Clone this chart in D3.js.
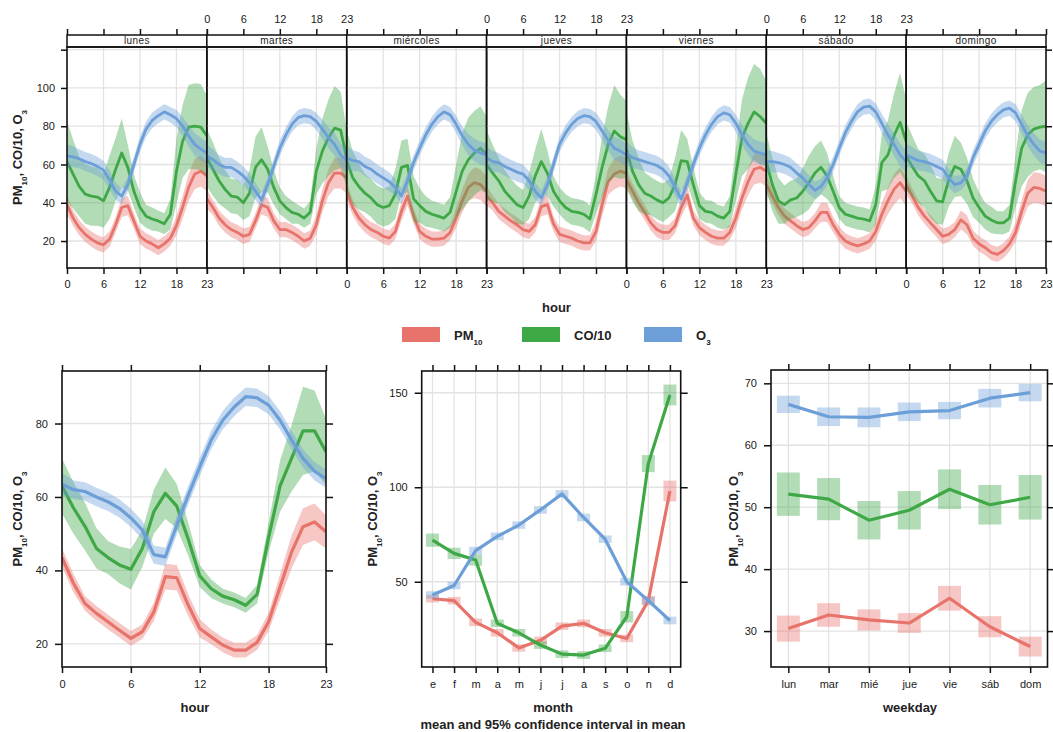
<!DOCTYPE html>
<html>
<head>
<meta charset="utf-8">
<script src="https://cdn.jsdelivr.net/npm/d3@7"></script>
<style>
  body { margin: 0; background: #fff; }
  text { font-family: "Liberation Sans", Arial, sans-serif; }
</style>
</head>
<body>
<div id="chart"></div>
<script>
// ---------------- data ----------------
var days = ["lunes", "martes", "miércoles", "jueves", "viernes", "sábado", "domingo"];
var dayShort = ["lun", "mar", "mié", "jue", "vie", "sáb", "dom"];
var monthLabels = ["e", "f", "m", "a", "m", "j", "j", "a", "s", "o", "n", "d"];
var hours = d3.range(24);

// day x hour means (one row per weekday, 24 hours)
var pmDayHour = [
  [39,32,27,23.5,21,19,18,21,28.5,37.5,38.5,30.5,22.5,20,18.5,16.5,18.5,21.5,28,37.5,48,55,56.5,54],
  [42,37.5,32,28.5,26,24.5,22.5,23.5,30.5,39,37.5,30.5,26,26,24.5,22.5,20,21.5,28.5,41,50.5,55.5,55.5,53],
  [46,37.5,32,28.5,26,24.5,22.5,21.5,25,35.5,43.5,33,25,22.5,21,21,21.5,24.5,32,41,48,50.5,49.5,46],
  [43.5,40,35.5,33,30.5,28.5,26,25,28.5,38,39,29,23.5,22.5,21.5,20,19,19,25,39,51,55,56.5,55.5],
  [52,46,40,35,29.5,26,24.5,24.5,28,37.5,44,32,27,24.5,22.5,21.5,21.5,24.5,32,42.5,51,57.5,58.5,56.5],
  [49.5,43.5,37.5,33,30.5,28,26,27,30.5,35,35,28.5,23.5,20,18.5,17.5,18.5,20,25,34,41,47,50.5,46],
  [49.5,43.5,37.5,33,29.5,26,22.5,23.5,26,31,28.5,21.5,18.5,16.5,14,13,15,18.5,24.5,35.5,45,48,47.5,46]
];
var coDayHour = [
  [61.5,55,48.5,44.5,43.5,43,41,48,57.5,66,58.5,46,37.5,33,31.5,30.5,29,34,56.5,72,79.5,80,79.5,75],
  [63.5,57.5,51.5,47,43.5,43,40,45,58.5,62.5,57.5,48,41,37.5,35,34,32,35,56.5,67,74,79,78,63],
  [62,53,48.5,45,42.5,39,37.5,38.5,44.5,58.5,59.5,42,38.5,35.5,34,33,32,35,46,56.5,62.5,66,68.5,65],
  [60,55.5,51.5,46,42.5,39,37.5,43.5,54,61.5,55.5,46,41,37.5,35.5,35,34,31.5,44.5,58.5,70.5,77.5,74.5,73],
  [68,56.5,49.5,45,43.5,41.5,40,42.5,49.5,62,61.5,49.5,38.5,35.5,35,33,32,35.5,55,74,81.5,87.5,85,81.5],
  [61.5,49.5,41,39,41.5,42.5,46,50.5,55.5,58.5,54,46,37.5,34,33,32,31.5,30.5,39,61,65,75,82,72],
  [64.5,59,54,51.5,46,41,40.5,52,59,57.5,51.5,42.5,37.5,33,31,29.5,29.5,32,51.5,68.5,75.5,78.5,79.5,80]
];
var o3DayHour = [
  [64.5,64,63,61.5,60.5,59,57,52,46,43.5,49.5,60,70.5,78.5,83,85.5,87.5,86,84,80,75,70.5,68,66],
  [64.5,62.5,60,58.5,58.5,56.5,54,50.5,46,41.5,49.5,59,68.5,75.5,81,84.5,85.5,85,82.5,78.5,74,70.5,65,62],
  [63.5,62,61.5,59,57.5,55,53,51,48,43.5,51.5,61,68.5,75.5,81,85,87.5,86,81,75,70.5,67.5,66,65],
  [63.5,61.5,61,59,57.5,56,55,51.5,46,42.5,49.5,60,70.5,76.5,81,84,85.5,85,82.5,77.5,72.5,68.5,67,65],
  [66,63.5,62.5,61.5,60.5,59.5,57.5,54,48,42,50.5,60,68.5,75.5,81,85,87,86,81.5,75.5,70.5,67,66,65],
  [61.5,61.5,61,60,58.5,55.5,53,49.5,46.5,48.5,53,60,68.5,76.5,82.5,87.5,90,90.5,87.5,81.5,75.5,70.5,65,61.5],
  [65,63.5,62,61.5,60.5,59,57.5,53,49.5,50.5,54,63.5,70.5,77.5,82.5,86,88.5,89.5,87,81,75,70.5,67,66]
];
// half widths of the 95% intervals
var pmDayHourCi = [5,4,4,4,4,4,4,4,4,5,5,4,4,4,4,4,4,4,5,6,7,8,8,8];
var o3DayHourCi = [6,5.5,5,5,5,5,5,5,4.5,4,4,4,4,4,4,4,4,4,4.5,5,5.5,6,6,6];
var coDayHourCi = [
  [21,18,15.5,15.5,15.5,15,14,16.5,16.5,18,12,8.5,8,6,6,5.5,5.5,8,17,19,22,22.5,22.5,21],
  [15,14,12,10,9,9,9,12,16,17,12,9,7,6,6,5,5,6,12,17,20,22,20,15],
  [16,14,12,10,10,10,10,10,13,14,14,12,9,8,7,7,7,8,14,20,22,22,22,20],
  [18,15,12,11,10,10,9,12,14,17,12,8,7,7,7,7,7,7,10,16,20,24,22,20],
  [20,16,14,11,10,10,10,10,14,16,12,9,7,6,6,6,6,8,14,20,24,25,25,22],
  [15,14,12,10,10,10,12,14,14,14,12,8,6,6,6,6,6,6,10,15,18,22,26,22],
  [18,16,14,14,14,12,12,14,16,14,12,10,8,7,7,6,6,7,14,20,22,22,22,24]
];

// hour of day
var pmHour = [43.5,36.5,31,28.3,26,23.7,21.5,23.3,28.7,38.3,38,30.5,24.2,21.9,19.7,18.3,18.3,20.4,26,35.5,45,51.9,53.2,50.5];
var coHour = [63,57,52,46,43.5,41.5,40.3,46,56,61,57.5,48.5,38.5,35,33,32,30.5,33.5,49,63,70.5,78,78,72.3];
var o3Hour = [63.5,62,61.5,60,58.7,56.9,54.3,51,44.3,43.7,52.3,60.5,68.2,75.5,80.9,84.5,87.3,87,85,80.9,75.5,70.5,67,65];
var pmHourCi = [2.5,2.5,2,2,2,2,2,2,2.5,3.5,3.5,3,2.5,2,2,2,2,2,2.5,3.5,4.5,5,5,4.5];
var coHourCi = [7.5,7,6.5,5.5,4.5,5,5.5,5,6,7,6,4.5,3,2.5,2,2,2,2.5,4,7,9,12,11,9];
var o3HourCi = [3,2.5,2.5,2.5,2.5,2.5,2.5,2.5,2.5,2.5,2.5,2.5,2.5,2.5,2.5,2.5,2.5,2.5,2.5,2.5,2.5,2.5,2.5,2.5];

// month
var pmMonth = [41,40,28.5,23,15,19,26.5,28,23,20,40,98];
var coMonth = [72,65,61.5,28,23,16.5,11.7,11.2,14.8,31.5,112.5,148.8];
var o3Month = [43,48,66.5,74,80,88,96.5,84,72.5,50,40,29.5];
var pmMonthCi = [2,2,2,2,2,2,2,2,2,2,2.5,5.5];
var coMonthCi = [3.5,3,3,2,2,2,2,2,2,3,4.5,5.5];
var o3MonthCi = [2,2,2,2,2,2,2,2,2,2,2,2];

// weekday
var pmWeek = [30.4,32.6,31.8,31.3,35.3,30.7,27.5];
var coWeek = [52.1,51.3,47.9,49.5,52.9,50.4,51.6];
var o3Week = [66.6,64.6,64.5,65.4,65.6,67.6,68.5];
var pmWeekCi = [2.1,1.9,1.7,1.6,2,1.7,1.6];
var coWeekCi = [3.5,3.4,3.1,3.1,3.2,3.2,3.6];
var o3WeekCi = [1.4,1.5,1.6,1.5,1.4,1.5,1.4];

var colPM = "#e8736b", colCO = "#3fa846", colO3 = "#6c9fd8";

//**************************************************************

var svg = d3.select("#chart")
  .append("svg")
  .attr("width", 1053)
  .attr("height", 732);

var gridCol = "#e3e3e3";
var frameCol = "#111";

function styleAxis(g) {
  g.attr("font-family", null).attr("font-size", null);
  g.select(".domain").remove();
  g.selectAll(".tick line").attr("stroke", frameCol).attr("stroke-width", 1.5);
  g.selectAll(".tick text").attr("fill", "#1a1a1a").style("font-size", "11px");
}

function yLabel(x, y) {
  var t = svg.append("text")
    .attr("transform", "translate(" + x + "," + y + ") rotate(-90)")
    .attr("text-anchor", "middle")
    .style("font-weight", "bold")
    .style("font-size", "13px")
    .attr("fill", "#222");
  t.append("tspan").text("PM");
  t.append("tspan").text("10").attr("baseline-shift", "sub").style("font-size", "8px");
  t.append("tspan").text(", CO/10, O");
  t.append("tspan").text("3").attr("baseline-shift", "sub").style("font-size", "8px");
}

function title(x, y, txt) {
  svg.append("text")
    .attr("x", x).attr("y", y)
    .attr("text-anchor", "middle")
    .style("font-weight", "bold")
    .style("font-size", "13px")
    .attr("fill", "#222")
    .text(txt);
}

var clipId = 0;
function clipped(g, x0, y0, w, h) {
  clipId++;
  svg.append("clipPath").attr("id", "clip" + clipId)
    .append("rect").attr("x", x0).attr("y", y0).attr("width", w).attr("height", h);
  return g.append("g").attr("clip-path", "url(#clip" + clipId + ")");
}

// band + line
function bandLine(g, x, y, mean, ci, col, lw) {
  var area = d3.area()
    .x((d, i) => x(hours[i]))
    .y0((d, i) => y(mean[i] - ci[i]))
    .y1((d, i) => y(mean[i] + ci[i]));
  var line = d3.line()
    .x((d, i) => x(hours[i]))
    .y((d, i) => y(mean[i]));
  g.append("path").attr("d", area(mean)).attr("fill", col).attr("fill-opacity", 0.4);
  g.append("path").attr("d", line(mean)).attr("fill", "none")
    .attr("stroke", col).attr("stroke-width", lw).attr("stroke-linejoin", "round");
}

// boxes + line for categorical panels
function boxLine(g, x, y, cats, mean, ci, col, frac) {
  var bw = x.step() * frac;
  g.selectAll(null).data(mean).enter().append("rect")
    .attr("x", (d, i) => x(cats[i]) - bw / 2)
    .attr("width", bw)
    .attr("y", (d, i) => y(d + ci[i]))
    .attr("height", (d, i) => y(d - ci[i]) - y(d + ci[i]))
    .attr("fill", col).attr("fill-opacity", 0.4);
  var line = d3.line().x((d, i) => x(cats[i])).y(d => y(d));
  g.append("path").attr("d", line(mean)).attr("fill", "none")
    .attr("stroke", col).attr("stroke-width", 3.2).attr("stroke-linejoin", "round");
}

//************************ top: day x hour ************************

var tp = {x0: 67, x1: 1046, y0: 47, y1: 268, strip: 35};
var pw = (tp.x1 - tp.x0) / 7;
var yTop = d3.scaleLinear().domain([5.9, 121.4]).range([tp.y1, tp.y0]);
var yTopTicks = [20, 40, 60, 80, 100, 120];

days.forEach(function(day, i) {
  var px = tp.x0 + i * pw;
  var x = d3.scaleLinear().domain([0, 23]).range([px, px + pw]);
  var g = svg.append("g");

  // grid
  g.selectAll(null).data([6, 12, 18]).enter().append("line")
    .attr("x1", d => x(d)).attr("x2", d => x(d))
    .attr("y1", tp.y0).attr("y2", tp.y1)
    .attr("stroke", gridCol).attr("stroke-width", 1.3);
  g.selectAll(null).data(yTopTicks).enter().append("line")
    .attr("x1", px).attr("x2", px + pw)
    .attr("y1", d => yTop(d)).attr("y2", d => yTop(d))
    .attr("stroke", gridCol).attr("stroke-width", 1.3);

  var c = clipped(g, px, tp.y0, pw, tp.y1 - tp.y0);
  bandLine(c, x, yTop, pmDayHour[i], pmDayHourCi, colPM, 2.8);
  bandLine(c, x, yTop, coDayHour[i], coDayHourCi[i], colCO, 2.8);
  bandLine(c, x, yTop, o3DayHour[i], o3DayHourCi, colO3, 2.8);

  // strip
  g.append("rect").attr("x", px).attr("y", tp.strip).attr("width", pw).attr("height", tp.y0 - tp.strip)
    .attr("fill", "#fff").attr("stroke", frameCol).attr("stroke-width", 1.5);
  g.append("text").attr("x", px + pw / 2).attr("y", tp.y0 - 3)
    .attr("text-anchor", "middle").style("font-size", "10px").style("letter-spacing", "0.4px")
    .attr("fill", "#222")
    .text(day);

  // frame
  g.append("rect").attr("x", px).attr("y", tp.y0).attr("width", pw).attr("height", tp.y1 - tp.y0)
    .attr("fill", "none").attr("stroke", frameCol).attr("stroke-width", 1.6);

  // axes: labels alternate between bottom and top
  var ax = svg.append("g").attr("transform", "translate(0," + tp.strip + ")")
    .call(d3.axisTop(x).tickValues([0, 6, 12, 18, 23]).tickSize(6).tickPadding(6)
      .tickFormat(i % 2 === 1 ? d3.format("d") : () => ""));
  styleAxis(ax);
  var bx = svg.append("g").attr("transform", "translate(0," + tp.y1 + ")")
    .call(d3.axisBottom(x).tickValues([0, 6, 12, 18, 23]).tickSize(6).tickPadding(6)
      .tickFormat(i % 2 === 0 ? d3.format("d") : () => ""));
  styleAxis(bx);
});

var lyTop = svg.append("g").attr("transform", "translate(" + tp.x0 + ",0)")
  .call(d3.axisLeft(yTop).tickValues(yTopTicks).tickSize(6).tickPadding(6)
    .tickFormat(d => d === 120 ? "" : d));
styleAxis(lyTop);
var ryTop = svg.append("g").attr("transform", "translate(" + tp.x1 + ",0)")
  .call(d3.axisRight(yTop).tickValues(yTopTicks).tickSize(6).tickFormat(() => ""));
styleAxis(ryTop);

yLabel(22, (tp.y0 + tp.y1) / 2);
title((tp.x0 + tp.x1) / 2, 312, "hour");

//************************ legend ************************

var legend = [
  {col: colPM, x: 402, main: "PM", sub: "10"},
  {col: colCO, x: 522, main: "CO/10", sub: ""},
  {col: colO3, x: 644, main: "O", sub: "3"}
];
legend.forEach(function(l) {
  svg.append("rect").attr("x", l.x).attr("y", 327).attr("width", 38).attr("height", 15)
    .attr("fill", l.col);
  var t = svg.append("text").attr("x", l.x + 52).attr("y", 340)
    .style("font-weight", "bold").style("font-size", "13px").attr("fill", "#222");
  t.append("tspan").text(l.main);
  if (l.sub) t.append("tspan").text(l.sub).attr("baseline-shift", "sub").style("font-size", "8px");
});

//************************ bottom left: hour ************************

var hp = {x0: 62, x1: 326, y0: 371, y1: 667};
var xH = d3.scaleLinear().domain([0, 23]).range([hp.x0, hp.x1]);
var yH = d3.scaleLinear().domain([13.7, 94.3]).range([hp.y1, hp.y0]);
var gH = svg.append("g");
gH.selectAll(null).data([6, 12, 18]).enter().append("line")
  .attr("x1", d => xH(d)).attr("x2", d => xH(d)).attr("y1", hp.y0).attr("y2", hp.y1)
  .attr("stroke", gridCol).attr("stroke-width", 1.3);
gH.selectAll(null).data([20, 40, 60, 80]).enter().append("line")
  .attr("x1", hp.x0).attr("x2", hp.x1).attr("y1", d => yH(d)).attr("y2", d => yH(d))
  .attr("stroke", gridCol).attr("stroke-width", 1.3);
var cH = clipped(gH, hp.x0, hp.y0, hp.x1 - hp.x0, hp.y1 - hp.y0);
bandLine(cH, xH, yH, pmHour, pmHourCi, colPM, 3.2);
bandLine(cH, xH, yH, coHour, coHourCi, colCO, 3.2);
bandLine(cH, xH, yH, o3Hour, o3HourCi, colO3, 3.2);
gH.append("rect").attr("x", hp.x0).attr("y", hp.y0).attr("width", hp.x1 - hp.x0).attr("height", hp.y1 - hp.y0)
  .attr("fill", "none").attr("stroke", frameCol).attr("stroke-width", 1.6);

styleAxis(svg.append("g").attr("transform", "translate(0," + hp.y1 + ")")
  .call(d3.axisBottom(xH).tickValues([0, 6, 12, 18, 23]).tickSize(6).tickPadding(7)));
styleAxis(svg.append("g").attr("transform", "translate(0," + hp.y0 + ")")
  .call(d3.axisTop(xH).tickValues([0, 6, 12, 18, 23]).tickSize(6).tickFormat(() => "")));
styleAxis(svg.append("g").attr("transform", "translate(" + hp.x0 + ",0)")
  .call(d3.axisLeft(yH).tickValues([20, 40, 60, 80]).tickSize(7).tickPadding(7)));
styleAxis(svg.append("g").attr("transform", "translate(" + hp.x1 + ",0)")
  .call(d3.axisRight(yH).tickValues([20, 40, 60, 80]).tickSize(7).tickFormat(() => "")));
yLabel(22, 519);
title(195, 712, "hour");

//************************ bottom middle: month ************************

var mp = {x0: 421.7, x1: 680.7, y0: 371, y1: 667};
var mIdx = d3.range(12);
var xM = d3.scalePoint().domain(mIdx).range([mp.x0, mp.x1]).padding(0.5);
var yM = d3.scaleLinear().domain([4.9, 161.5]).range([mp.y1, mp.y0]);
var gM = svg.append("g");
gM.selectAll(null).data(mIdx).enter().append("line")
  .attr("x1", d => xM(d)).attr("x2", d => xM(d)).attr("y1", mp.y0).attr("y2", mp.y1)
  .attr("stroke", gridCol).attr("stroke-width", 1.3);
gM.selectAll(null).data([50, 100, 150]).enter().append("line")
  .attr("x1", mp.x0).attr("x2", mp.x1).attr("y1", d => yM(d)).attr("y2", d => yM(d))
  .attr("stroke", gridCol).attr("stroke-width", 1.3);
var cM = clipped(gM, mp.x0, mp.y0, mp.x1 - mp.x0, mp.y1 - mp.y0);
boxLine(cM, xM, yM, mIdx, pmMonth, pmMonthCi, colPM, 0.6);
boxLine(cM, xM, yM, mIdx, coMonth, coMonthCi, colCO, 0.6);
boxLine(cM, xM, yM, mIdx, o3Month, o3MonthCi, colO3, 0.6);
gM.append("rect").attr("x", mp.x0).attr("y", mp.y0).attr("width", mp.x1 - mp.x0).attr("height", mp.y1 - mp.y0)
  .attr("fill", "none").attr("stroke", frameCol).attr("stroke-width", 1.6);

styleAxis(svg.append("g").attr("transform", "translate(0," + mp.y1 + ")")
  .call(d3.axisBottom(xM).tickSize(6).tickPadding(7).tickFormat(d => monthLabels[d])));
styleAxis(svg.append("g").attr("transform", "translate(0," + mp.y0 + ")")
  .call(d3.axisTop(xM).tickSize(6).tickFormat(() => "")));
styleAxis(svg.append("g").attr("transform", "translate(" + mp.x0 + ",0)")
  .call(d3.axisLeft(yM).tickValues([50, 100, 150]).tickSize(7).tickPadding(7)));
styleAxis(svg.append("g").attr("transform", "translate(" + mp.x1 + ",0)")
  .call(d3.axisRight(yM).tickValues([50, 100, 150]).tickSize(7).tickFormat(() => "")));
yLabel(377, 519);
title(553, 712, "month");
title(553, 729, "mean and 95% confidence interval in mean");

//************************ bottom right: weekday ************************

var wp = {x0: 771, x1: 1047.5, y0: 370, y1: 667};
var xW = d3.scalePoint().domain(dayShort).range([wp.x0, wp.x1]).padding(0.43);
var yW = d3.scaleLinear().domain([24.2, 72.15]).range([wp.y1, wp.y0]);
var gW = svg.append("g");
gW.selectAll(null).data(dayShort).enter().append("line")
  .attr("x1", d => xW(d)).attr("x2", d => xW(d)).attr("y1", wp.y0).attr("y2", wp.y1)
  .attr("stroke", gridCol).attr("stroke-width", 1.3);
gW.selectAll(null).data([30, 40, 50, 60, 70]).enter().append("line")
  .attr("x1", wp.x0).attr("x2", wp.x1).attr("y1", d => yW(d)).attr("y2", d => yW(d))
  .attr("stroke", gridCol).attr("stroke-width", 1.3);
var cW = clipped(gW, wp.x0, wp.y0, wp.x1 - wp.x0, wp.y1 - wp.y0);
boxLine(cW, xW, yW, dayShort, pmWeek, pmWeekCi, colPM, 0.57);
boxLine(cW, xW, yW, dayShort, coWeek, coWeekCi, colCO, 0.57);
boxLine(cW, xW, yW, dayShort, o3Week, o3WeekCi, colO3, 0.57);
gW.append("rect").attr("x", wp.x0).attr("y", wp.y0).attr("width", wp.x1 - wp.x0).attr("height", wp.y1 - wp.y0)
  .attr("fill", "none").attr("stroke", frameCol).attr("stroke-width", 1.6);

styleAxis(svg.append("g").attr("transform", "translate(0," + wp.y1 + ")")
  .call(d3.axisBottom(xW).tickSize(6).tickPadding(7)));
styleAxis(svg.append("g").attr("transform", "translate(0," + wp.y0 + ")")
  .call(d3.axisTop(xW).tickSize(6).tickFormat(() => "")));
styleAxis(svg.append("g").attr("transform", "translate(" + wp.x0 + ",0)")
  .call(d3.axisLeft(yW).tickValues([30, 40, 50, 60, 70]).tickSize(7).tickPadding(7)));
styleAxis(svg.append("g").attr("transform", "translate(" + wp.x1 + ",0)")
  .call(d3.axisRight(yW).tickValues([30, 40, 50, 60, 70]).tickSize(7).tickFormat(() => "")));
yLabel(738, 519);
title(910, 712, "weekday");
</script>
</body>
</html>
